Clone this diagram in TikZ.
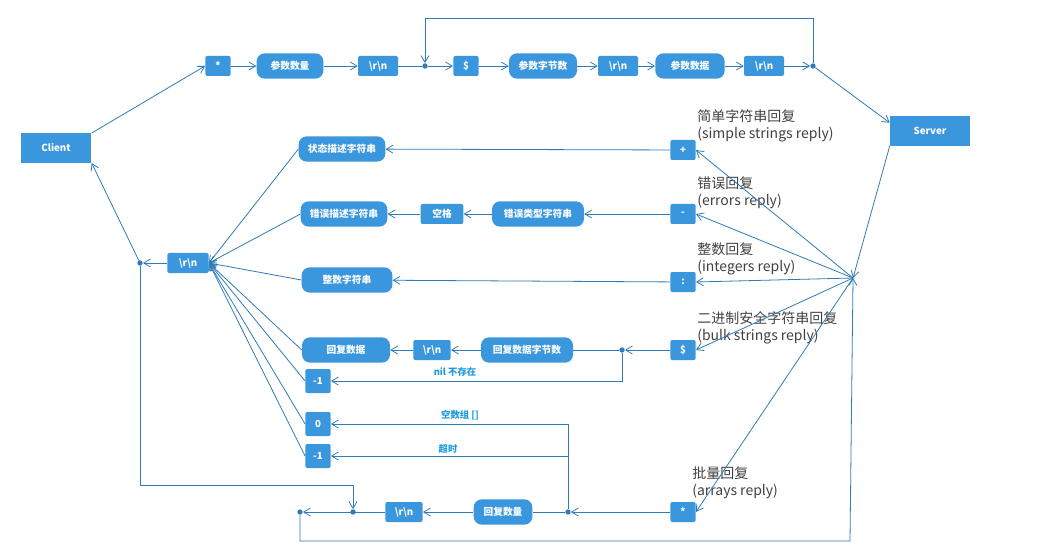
\documentclass[tikz,border=0pt]{standalone}
\usepackage{fontspec}
\setmainfont{Noto Sans CJK SC}
\usetikzlibrary{arrows.meta,positioning}
\definecolor{BoxBlue}{HTML}{3A96DD}
\definecolor{LineBlue}{HTML}{2E7BB8}
\definecolor{NoteBlue}{HTML}{1E9BE0}
\tikzset{
  box/.style={fill=BoxBlue, text=white, font=\bfseries\fontsize{7.3}{8}\selectfont, minimum height=15pt, inner sep=1pt, rounded corners=1.5pt},
  pill/.style={box, minimum height=19pt, rounded corners=6pt},
  dot/.style={circle, fill=LineBlue, inner sep=0pt, minimum size=4pt},
  flow/.style={draw=LineBlue, line width=0.6pt, -{Straight Barb[length=5pt,width=6pt]}},
  note/.style={text=black!75, font=\fontsize{10.5}{13}\selectfont, align=left, anchor=north west, inner sep=0pt},
  tag/.style={text=NoteBlue, font=\bfseries\fontsize{7}{8}\selectfont}
}
\begin{document}
\begin{tikzpicture}[x=0.75pt,y=-0.75pt]
\useasboundingbox (0,0) rectangle (1063,552);
% ends
\node[box, rounded corners=0, minimum width=53pt, minimum height=22pt] (client) at (56,148) {Client};
\node[box, rounded corners=0, minimum width=60pt, minimum height=22pt] (server) at (930,131) {Server};
% request row
\node[box, minimum width=19pt] (star) at (218,66) {*};
\node[pill, minimum width=50pt] (argn) at (290,66) {参数数量};
\node[box, minimum width=30pt] (crlfa) at (378,66) {\textbackslash r\textbackslash n};
\node[dot] (loopin) at (425,66) {};
\node[box, minimum width=19pt] (dollar) at (466,66) {\$};
\node[pill, minimum width=51pt] (argb) at (543,66) {参数字节数};
\node[box, minimum width=30pt] (crlfb) at (618,66) {\textbackslash r\textbackslash n};
\node[pill, minimum width=52pt] (argd) at (690,66) {参数数据};
\node[box, minimum width=30pt] (crlfc) at (764,66) {\textbackslash r\textbackslash n};
\node[dot] (loopout) at (813,66) {};
\coordinate (hub) at (853,278);
% reply types
\node[box, minimum width=19pt] (rplus) at (683,150) {+};
\node[box, minimum width=19pt] (rminus) at (683,214) {-};
\node[box, minimum width=19pt] (rcolon) at (683,282) {:};
\node[box, minimum width=19pt] (rdollar) at (683,350) {\$};
\node[box, minimum width=19pt] (rstar) at (683,512) {*};
\node[note] at (697,109) {简单字符串回复\\(simple strings reply)};
\node[note] at (697,176) {错误回复\\(errors reply)};
\node[note] at (697,242) {整数回复\\(integers reply)};
\node[note] at (697,311) {二进制安全字符串回复\\(bulk strings reply)};
\node[note] at (692,466) {批量回复\\(arrays reply)};
% reply parts
\node[pill, minimum width=65pt] (status) at (342,149) {状态描述字符串};
\node[pill, minimum width=65pt] (errdesc) at (344,214) {错误描述字符串};
\node[box, minimum width=32pt] (space) at (442,214) {空格};
\node[pill, minimum width=69pt] (errtype) at (538,214) {错误类型字符串};
\node[pill, minimum width=68pt] (intstr) at (347,280) {整数字符串};
\node[pill, minimum width=66pt] (bulkd) at (346,350) {回复数据};
\node[box, minimum width=28pt] (crlfd) at (432,350) {\textbackslash r\textbackslash n};
\node[pill, minimum width=69pt] (bulkn) at (527,350) {回复数据字节数};
\node[dot] (bulkfork) at (622,350) {};
\node[box, minimum width=19pt, minimum height=18pt] (nilb) at (318,381) {-1};
\node[box, minimum width=19pt, minimum height=18pt] (empty) at (318,424) {0};
\node[box, minimum width=19pt, minimum height=18pt] (nila) at (318,456) {-1};
\node[tag] at (455,372) {nil 不存在};
\node[tag] at (460,415) {空数组 []};
\node[tag] at (448,449) {超时};
\node[pill, minimum width=44pt] (arrn) at (503,512) {回复数量};
\node[box, minimum width=28pt] (crlfe) at (404,512) {\textbackslash r\textbackslash n};
\node[dot] (arrfork) at (568,512) {};
\node[dot] (arrjoin) at (353,512) {};
\node[dot] (arrout) at (300,512) {};
\node[box, minimum width=31pt] (crlf) at (188,263) {\textbackslash r\textbackslash n};
\node[dot] (back) at (140,263) {};
% request
\draw[flow] (client.north east) -- (star.west);
\draw[flow] (star) -- (argn);
\draw[flow] (argn) -- (crlfa);
\draw[draw=LineBlue, line width=0.6pt] (crlfa) -- (loopin);
\draw[flow] (loopin) -- (dollar);
\draw[flow] (dollar) -- (argb);
\draw[flow] (argb) -- (crlfb);
\draw[flow] (crlfb) -- (argd);
\draw[flow] (argd) -- (crlfc);
\draw[flow] (crlfc) -- (loopout);
\draw[flow] (loopout) -- (813,18) -| (loopin);
\draw[flow] (loopout) -- ([yshift=-5pt]server.north west);
\draw[flow] (server.south west) -- (hub);
% replies
\foreach \r in {rplus,rminus,rcolon,rdollar,rstar}
  \draw[flow] (hub) -- (\r.east);
\draw[flow] (rplus) -- (status);
\draw[flow] (rminus) -- (errtype);
\draw[flow] (errtype) -- (space);
\draw[flow] (space) -- (errdesc);
\draw[flow] (rcolon) -- (intstr);
\draw[flow] (rdollar) -- (bulkfork);
\draw[draw=LineBlue, line width=0.6pt] (bulkfork) -- (bulkn);
\draw[flow] (bulkfork) |- (nilb);
\draw[flow] (bulkn) -- (crlfd);
\draw[flow] (crlfd) -- (bulkd);
\draw[flow] (rstar) -- (arrfork);
\draw[draw=LineBlue, line width=0.6pt] (arrfork) -- (arrn);
\draw[flow] (arrfork) |- (empty);
\draw[flow] (568,456) -- (nila);
\draw[flow] (arrn) -- (crlfe);
\draw[flow] (crlfe) -- (arrout);
\draw[flow] (back) |- (353,485) -- (arrjoin);
\draw[flow] (arrout) |- (850,541) -- (hub);
\foreach \p in {status.west,errdesc.west,intstr.west,bulkd.west,nilb.west,empty.west,nila.west}
  \draw[flow] (\p) -- (crlf.east);
\draw[flow] (crlf) -- (back);
\draw[flow] (back) -- (client.south east);
\end{tikzpicture}
\end{document}
